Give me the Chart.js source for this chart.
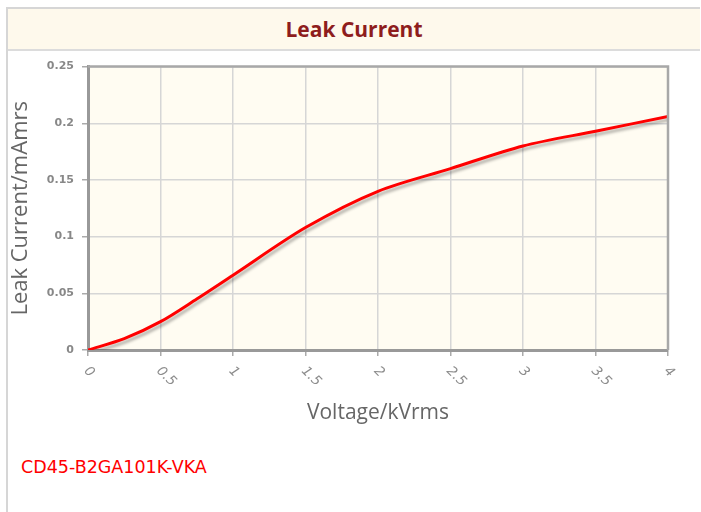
<!DOCTYPE html>
<html>
<head>
<meta charset="utf-8">
<script src="https://cdn.jsdelivr.net/npm/chart.js@4"></script>
<style>
  body { margin: 0; background: #fff; width: 701px; height: 512px; overflow: hidden; position: relative; }
  .box { position: absolute; left: 6px; top: 7px; width: 692px; height: 520px;
         border-left: 2px solid #d6d6d6; border-top: 2px solid #d6d6d6; }
  .head { height: 40px; background: #fef9ec; border-bottom: 2px solid #dcdcdc;
          text-align: center; line-height: 40px; font-family: "Open Sans", sans-serif;
          font-weight: 700; font-size: 21px; color: #8e1d1d; }
  .wrap { position: absolute; left: 0; top: 52px; width: 701px; height: 380px; }
  .part { position: absolute; left: 21px; top: 457px; font-family: "DejaVu Sans", sans-serif;
          font-size: 17.5px; color: #ff0000; }
</style>
</head>
<body>
<div class="box"><div class="head">Leak Current</div></div>
<div class="wrap"><canvas class="chart"></canvas></div>
<div class="part">CD45-B2GA101K-VKA</div>
<script>
const voltage = [0, 0.25, 0.5, 0.75, 1, 1.5, 2, 2.5, 3, 3.5, 4];
const leak = [0, 0.01, 0.025, 0.045, 0.066, 0.108, 0.14, 0.16, 0.18, 0.193, 0.206];
const xTicks = ['0', '0.5', '1', '1.5', '2', '2.5', '3', '3.5', '4'];

const plotBg = {
    id: 'plotBg',
    beforeDraw(chart) {
        const a = chart.chartArea, c = chart.ctx;
        c.save();
        c.fillStyle = '#fffcf2';
        c.fillRect(a.left, a.top, a.right - a.left, a.bottom - a.top);
        c.restore();
    },
    afterDraw(chart) {
        const a = chart.chartArea, c = chart.ctx;
        c.save();
        c.strokeStyle = '#a8a8a8';
        c.lineWidth = 2.5;
        c.beginPath();
        c.moveTo(a.left, a.top);
        c.lineTo(a.right, a.top);
        c.lineTo(a.right, a.bottom);
        c.stroke();
        // x tick labels, slanted down to the right
        const xs = chart.scales.x;
        c.fillStyle = '#8c8c8c';
        c.font = 'italic 13.5px "DejaVu Sans", sans-serif';
        c.textAlign = 'left';
        c.textBaseline = 'middle';
        xTicks.forEach(t => {
            c.save();
            c.translate(xs.getPixelForValue(parseFloat(t)) - 2, a.bottom + 19);
            c.rotate(Math.PI / 4);
            c.fillText(t, 0, 0);
            c.restore();
        });
        c.restore();
    },
    beforeDatasetDraw(chart) {
        const c = chart.ctx;
        c.save();
        c.shadowColor = 'rgba(0,0,0,0.3)';
        c.shadowOffsetX = 2;
        c.shadowOffsetY = 3;
        c.shadowBlur = 3;
    },
    afterDatasetDraw(chart) {
        chart.ctx.restore();
    }
};

const ctx = document.getElementsByClassName('chart')[0].getContext('2d');
const leakChart = new Chart(ctx, {
    type: 'line',
    data: {
        datasets: [{
            data: voltage.map((v, i) => ({x: v, y: leak[i]})),
            borderColor: '#ff0000',
            borderWidth: 3,
            pointRadius: 0,
            fill: false,
            tension: 0.3
        }]
    },
    options: {
        responsive: true,
        maintainAspectRatio: false,
        animation: false,
        layout: {padding: {top: 14, right: 33, left: 0, bottom: 0}},
        plugins: {legend: {display: false}, tooltip: {enabled: false}},
        scales: {
            x: {
                type: 'linear', min: 0, max: 4,
                afterFit: s => { s.height = 82; },
                ticks: {display: false, stepSize: 0.5},
                grid: {color: '#d6d6d6', lineWidth: 1.5, tickLength: 6, tickColor: '#aaa'},
                border: {color: '#999', width: 3},
                title: {display: true, text: 'Voltage/kVrms', color: '#666',
                        font: {family: 'Open Sans', size: 21}, padding: {top: 0, bottom: 6}}
            },
            y: {
                min: 0, max: 0.25,
                afterFit: s => { s.width = 88; },
                ticks: {stepSize: 0.05, color: '#888', padding: 8,
                        callback: v => String(+v.toFixed(2)),
                        font: {family: 'DejaVu Sans', size: 11, weight: 'bold'}},
                grid: {color: '#d6d6d6', lineWidth: 1.5, tickLength: 6, tickColor: '#aaa'},
                border: {color: '#999', width: 3},
                title: {display: true, text: 'Leak Current/mAmrs', color: '#666',
                        font: {family: 'Open Sans', size: 22}, padding: {top: 8, bottom: 4}}
            }
        }
    },
    plugins: [plotBg]
});
</script>
</body>
</html>
